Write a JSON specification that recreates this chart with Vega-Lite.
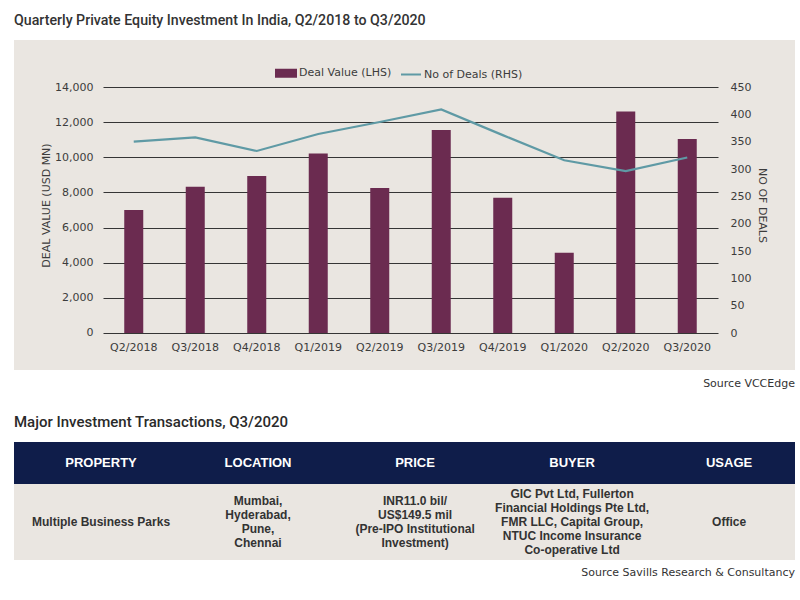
{
  "$schema": "https://vega.github.io/schema/vega-lite/v6.json",
  "padding": {"left": 14, "right": 5, "top": 13, "bottom": 5},
  "background": "white",
  "title": {"text": "Quarterly Private Equity Investment In India, Q2/2018 to Q3/2020", "anchor": "start", "font": "Roboto", "fontSize": 14.2, "fontWeight": 500, "color": "#333333", "offset": 12},
  "datasets": {
    "quarters": [
      {"quarter": "Q2/2018", "deal_value": 7000, "deals": 350},
      {"quarter": "Q3/2018", "deal_value": 8330, "deals": 358},
      {"quarter": "Q4/2018", "deal_value": 8930, "deals": 333},
      {"quarter": "Q1/2019", "deal_value": 10220, "deals": 364},
      {"quarter": "Q2/2019", "deal_value": 8250, "deals": 386},
      {"quarter": "Q3/2019", "deal_value": 11550, "deals": 409},
      {"quarter": "Q4/2019", "deal_value": 7700, "deals": 362},
      {"quarter": "Q1/2020", "deal_value": 4570, "deals": 316},
      {"quarter": "Q2/2020", "deal_value": 12600, "deals": 296},
      {"quarter": "Q3/2020", "deal_value": 11040, "deals": 321}
    ],
    "transactions": [
      {"column": "PROPERTY", "value": "Multiple Business Parks"},
      {"column": "LOCATION", "value": "Mumbai,\nHyderabad,\nPune,\nChennai"},
      {"column": "PRICE", "value": "INR11.0 bil/\nUS$149.5 mil\n(Pre-IPO Institutional\nInvestment)"},
      {"column": "BUYER", "value": "GIC Pvt Ltd, Fullerton\nFinancial Holdings Pte Ltd,\nFMR LLC, Capital Group,\nNTUC Income Insurance\nCo-operative Ltd"},
      {"column": "USAGE", "value": "Office"}
    ]
  },
  "spacing": 26,
  "vconcat": [
    {
      "width": 781,
      "height": 330,
      "view": {"fill": "#eae6e1", "stroke": null},
      "data": {"name": "quarters"},
      "title": {"text": "Source VCCEdge", "orient": "bottom", "anchor": "end", "font": "DejaVu Sans", "fontSize": 11, "fontWeight": "normal", "color": "#333333", "offset": 8},
      "encoding": {
        "x": {
          "field": "quarter", "type": "nominal", "sort": null,
          "scale": {"type": "band", "range": [89, 704], "paddingInner": 0.691, "paddingOuter": 0.3455, "align": 0.5},
          "axis": {"orient": "bottom", "offset": -37, "title": null, "domain": false, "ticks": false, "tickSize": 0, "labelAngle": 0, "labelPadding": 8, "labelFontSize": 11, "labelColor": "#3c3c3c", "labelFont": "DejaVu Sans"}
        }
      },
      "layer": [
        {
          "mark": {"type": "bar"},
          "encoding": {
            "y": {
              "field": "deal_value", "type": "quantitative",
              "scale": {"domain": [-2106, 16675], "nice": false, "zero": false},
              "axis": {"orient": "left", "offset": -89, "values": [0, 2000, 4000, 6000, 8000, 10000, 12000, 14000], "format": ",.0f", "domain": false, "grid": false, "ticks": true, "tickSize": -615, "tickColor": "#353535", "tickWidth": 1.2, "labelPadding": 625, "labelFontSize": 11, "labelColor": "#3c3c3c", "labelFont": "DejaVu Sans", "title": "DEAL VALUE (USD MN)", "titleFontSize": 11, "titleFont": "DejaVu Sans", "titleFontWeight": "normal", "titleColor": "#3c3c3c", "titlePadding": 3}
            },
            "color": {
              "datum": "Deal Value (LHS)", "type": "nominal",
              "scale": {"domain": ["Deal Value (LHS)", "No of Deals (RHS)"], "range": ["#6b2b50", "#5f9aa5"]},
              "legend": {
                "orient": "none", "legendX": 261, "legendY": 22, "direction": "horizontal", "title": null,
                "labelFont": "DejaVu Sans", "labelFontSize": 11, "labelColor": "#3c3c3c", "symbolSize": 400, "labelOffset": 2, "columnPadding": 5,
                "encode": {
                  "symbols": {
                    "update": {
                      "shape": {"signal": "datum.value === 'Deal Value (LHS)' ? 'M-1,-0.35H1V0.35H-1Z' : 'stroke'"},
                      "fill": {"signal": "datum.value === 'Deal Value (LHS)' ? '#6b2b50' : 'transparent'"},
                      "stroke": {"signal": "datum.value === 'Deal Value (LHS)' ? 'transparent' : '#5f9aa5'"},
                      "strokeWidth": {"value": 2},
                      "opacity": {"value": 1}
                    }
                  }
                }
              }
            }
          }
        },
        {
          "mark": {"type": "line", "strokeWidth": 2.2},
          "encoding": {
            "y": {
              "field": "deals", "type": "quantitative",
              "scale": {"domain": [-67.68, 536.0], "nice": false, "zero": false},
              "axis": {"orient": "right", "offset": -77, "values": [0, 50, 100, 150, 200, 250, 300, 350, 400, 450], "domain": false, "grid": false, "ticks": false, "tickSize": 0, "labelPadding": 12, "labelFontSize": 11, "labelColor": "#3c3c3c", "labelFont": "DejaVu Sans", "title": "NO OF DEALS", "titleFontSize": 11, "titleFont": "DejaVu Sans", "titleFontWeight": "normal", "titleColor": "#3c3c3c", "titlePadding": 6}
            },
            "color": {"datum": "No of Deals (RHS)", "type": "nominal"}
          }
        }
      ],
      "resolve": {"scale": {"y": "independent"}}
    },
    {
      "spacing": 0,
      "vconcat": [
        {
          "width": 781,
          "height": 42,
          "view": {"fill": "#0f1d4a", "stroke": null},
          "data": {"name": "transactions"},
          "title": {"text": "Major Investment Transactions, Q3/2020", "anchor": "start", "font": "Roboto", "fontSize": 15, "fontWeight": 500, "color": "#2a2a2a", "offset": 12},
          "mark": {"type": "text", "font": "Liberation Sans", "fontSize": 13, "fontWeight": "bold", "color": "#ffffff", "baseline": "middle"},
          "encoding": {
            "x": {"field": "column", "type": "nominal", "sort": null, "scale": {"type": "point", "domain": ["PROPERTY", "LOCATION", "PRICE", "BUYER", "USAGE"], "padding": 0.487, "align": 0.569}, "axis": null},
            "text": {"field": "column"}
          }
        },
        {
          "width": 781,
          "height": 76,
          "view": {"fill": "#eae6e1", "stroke": null},
          "data": {"name": "transactions"},
          "title": {"text": "Source Savills Research & Consultancy", "orient": "bottom", "anchor": "end", "font": "DejaVu Sans", "fontSize": 11, "fontWeight": "normal", "color": "#333333", "offset": 7},
          "encoding": {
            "x": {"field": "column", "type": "nominal", "sort": null, "scale": {"type": "point", "domain": ["PROPERTY", "LOCATION", "PRICE", "BUYER", "USAGE"], "padding": 0.487, "align": 0.569}, "axis": null},
            "text": {"field": "value"}
          },
          "layer": [
            {
              "transform": [{"filter": "datum.column === 'PROPERTY' || datum.column === 'USAGE'"}],
              "mark": {"type": "text", "font": "Liberation Sans", "fontSize": 12, "fontWeight": "bold", "color": "#333333", "baseline": "middle"}
            },
            {
              "transform": [{"filter": "datum.column === 'LOCATION' || datum.column === 'PRICE'"}],
              "mark": {"type": "text", "font": "Liberation Sans", "fontSize": 12, "fontWeight": "bold", "color": "#333333", "lineBreak": "\n", "lineHeight": 14.3, "baseline": "middle", "dy": -21.4}
            },
            {
              "transform": [{"filter": "datum.column === 'BUYER'"}],
              "mark": {"type": "text", "font": "Liberation Sans", "fontSize": 12, "fontWeight": "bold", "color": "#333333", "lineBreak": "\n", "lineHeight": 14.1, "baseline": "middle", "dy": -28.2}
            }
          ]
        }
      ]
    }
  ],
  "config": {"view": {"stroke": null}, "font": "DejaVu Sans"}
}
